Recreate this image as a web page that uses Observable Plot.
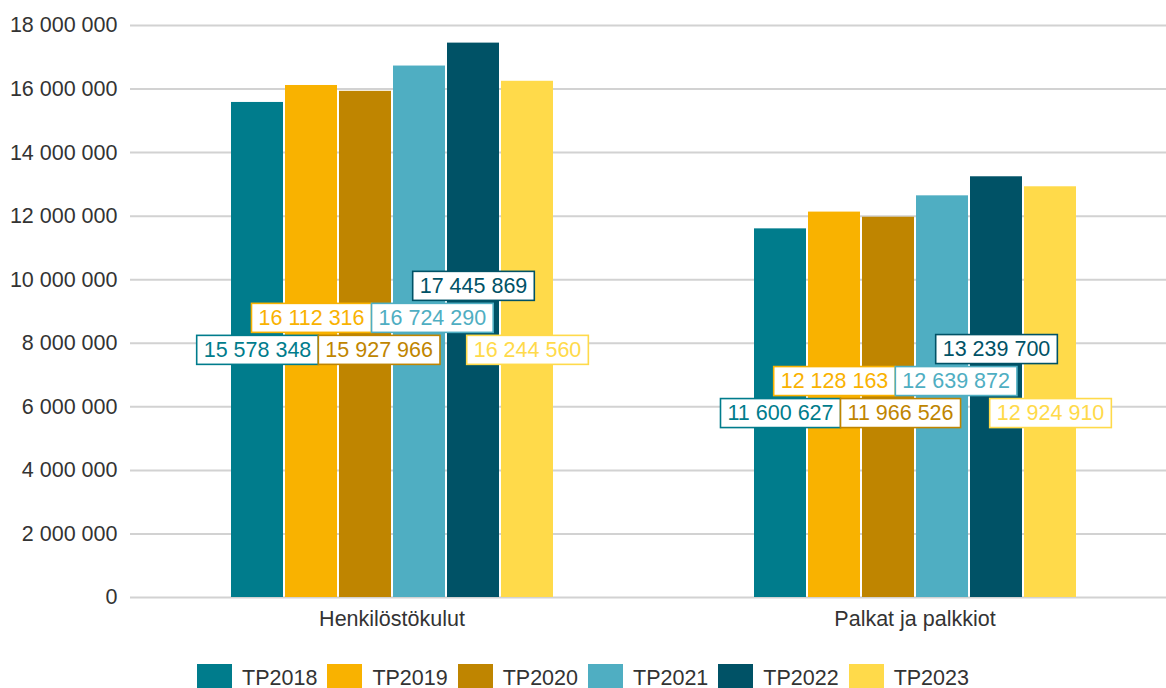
<!DOCTYPE html>
<html>
<head>
<meta charset="utf-8">
<script src="https://cdn.jsdelivr.net/npm/d3@7"></script>
<script src="https://cdn.jsdelivr.net/npm/@observablehq/plot@0.6"></script>
<style>
  html, body { margin: 0; padding: 0; background: #fff; overflow: hidden; width: 1166px; }
  body { font-family: "Liberation Sans", Arial, sans-serif; color: #333; }
  #chart { width: 1166px; overflow: hidden; }
  #legend { display: flex; justify-content: center; gap: 10px; margin-top: 14px; }
  .item { display: flex; align-items: flex-start; }
  .sw { width: 35px; height: 35px; box-sizing: border-box; }
  .lt { margin-left: 10px; font-size: 21.5px; line-height: 28px; color: #333; }
</style>
</head>
<body>
<div id="chart"></div>
<div id="legend"></div>
<script>
// ---- data ----
const categories = ["Henkilöstökulut", "Palkat ja palkkiot"];
const series = ["TP2018", "TP2019", "TP2020", "TP2021", "TP2022", "TP2023"];
const henkilostokulut = [15578348, 16112316, 15927966, 16724290, 17445869, 16244560];
const palkatJaPalkkiot = [11600627, 12128163, 11966526, 12639872, 13239700, 12924910];
const colors = ["#007c8c", "#f9b200", "#bf8500", "#4faec2", "#005266", "#ffda4a"];
const yTicks = [0, 2000000, 4000000, 6000000, 8000000, 10000000, 12000000, 14000000, 16000000, 18000000];

const valuesByCategory = [henkilostokulut, palkatJaPalkkiot];
const data = [];
categories.forEach((c, ci) => series.forEach((s, si) => data.push({category: c, series: s, value: valuesByCategory[ci][si]})));

const fmt = d3.formatLocale({decimal: ",", thousands: " ", grouping: [3], currency: ["", " €"]}).format(",d");

const chart = Plot.plot({
  width: 1176,
  height: 650,
  marginLeft: 130,
  marginRight: 0,
  marginTop: 25,
  marginBottom: 53,
  style: {fontFamily: '"Liberation Sans", Arial, sans-serif', fontSize: "21.5px", color: "#333", background: "#fff", maxWidth: "none"},
  fx: {domain: categories, padding: 0, label: null, tickSize: 0, tickPadding: 13},
  x: {domain: series, paddingInner: 0.04, paddingOuter: 1.836, align: 0.5, axis: null},
  y: {domain: [0, 18000000], ticks: yTicks, tickFormat: fmt, label: null, tickSize: 0, tickPadding: 13},
  color: {domain: series, range: colors},
  marks: [
    Plot.ruleY(yTicks, {stroke: "#d2d2d2", strokeWidth: 2}),
    Plot.barY(data, {fx: "category", x: "series", y: "value", fill: "series"}),
    Plot.text(data, {fx: "category", x: "series", y: d => d.value / 2, text: d => fmt(d.value), fill: "series", ariaLabel: "value labels", fontSize: 21.5})
  ]
});
document.getElementById("chart").append(chart);

// ---- label boxes with simple collision avoidance ----
(function layoutLabels() {
  const labelSet = new Set(data.map(d => fmt(d.value)));
  const svgRect = chart.getBoundingClientRect();
  const texts = Array.from(chart.querySelectorAll("text")).filter(t => labelSet.has(t.textContent));
  const groups = new Map();
  for (const t of texts) {
    const p = t.parentNode;
    if (!groups.has(p)) groups.set(p, []);
    groups.get(p).push(t);
  }
  const BOX_H = 29, COLL_H = 32, PADX = 7;
  const overlaps = (a, b) => Math.abs(a.x - b.x) < (a.w + b.w) / 2 - 0.5 && Math.abs(a.y - b.y) < (a.h + b.h) / 2 - 0.5;
  for (const [parent, list] of groups) {
    const items = list.map(t => {
      const r = t.getBoundingClientRect();
      return {t, cx: r.x + r.width / 2 - svgRect.x, cy: r.y + r.height / 2 - svgRect.y, w: r.width + 2 * PADX, h: COLL_H};
    });
    const placed = [];
    for (const it of items) {
      const xs = [it.cx], ys = [it.cy];
      for (const p of placed) {
        xs.push(p.x + (p.w + it.w) / 2, p.x - (p.w + it.w) / 2);
        ys.push(p.y - (p.h + it.h) / 2, p.y + (p.h + it.h) / 2);
      }
      let best = {x: it.cx, y: it.cy, w: it.w, h: it.h}, bestCost = Infinity;
      for (const x of xs) for (const y of ys) {
        const c = {x, y, w: it.w, h: it.h};
        if (placed.some(p => overlaps(c, p))) continue;
        const cost = 1.3 * Math.abs(x - it.cx) + Math.abs(y - it.cy);
        if (cost < bestCost) { bestCost = cost; best = c; }
      }
      placed.push(best);
      it.x = best.x; it.y = best.y;
    }
    const ctm = parent.getCTM();
    const ox = ctm ? ctm.e : 0, oy = ctm ? ctm.f : 0;
    const first = list[0];
    for (const it of items) {
      const dx = it.x - it.cx, dy = it.y - it.cy;
      const tr = it.t.getAttribute("transform") || "";
      it.t.setAttribute("transform", (tr + ` translate(${dx},${dy})`).trim());
      const rect = document.createElementNS("http://www.w3.org/2000/svg", "rect");
      rect.setAttribute("x", it.x - it.w / 2 - ox);
      rect.setAttribute("y", it.y - BOX_H / 2 - oy);
      rect.setAttribute("width", it.w);
      rect.setAttribute("height", BOX_H);
      rect.setAttribute("fill", "#fff");
      rect.setAttribute("stroke", it.t.getAttribute("fill") || getComputedStyle(it.t).fill);
      rect.setAttribute("stroke-width", 1.6);
      parent.insertBefore(rect, first);
    }
  }
})();

// ---- legend ----
const legend = document.getElementById("legend");
series.forEach((s, i) => {
  const item = document.createElement("div");
  item.className = "item";
  const sw = document.createElement("div");
  sw.className = "sw";
  sw.style.background = colors[i];
  const lt = document.createElement("span");
  lt.className = "lt";
  lt.textContent = s;
  item.append(sw, lt);
  legend.append(item);
});
</script>
</body>
</html>
